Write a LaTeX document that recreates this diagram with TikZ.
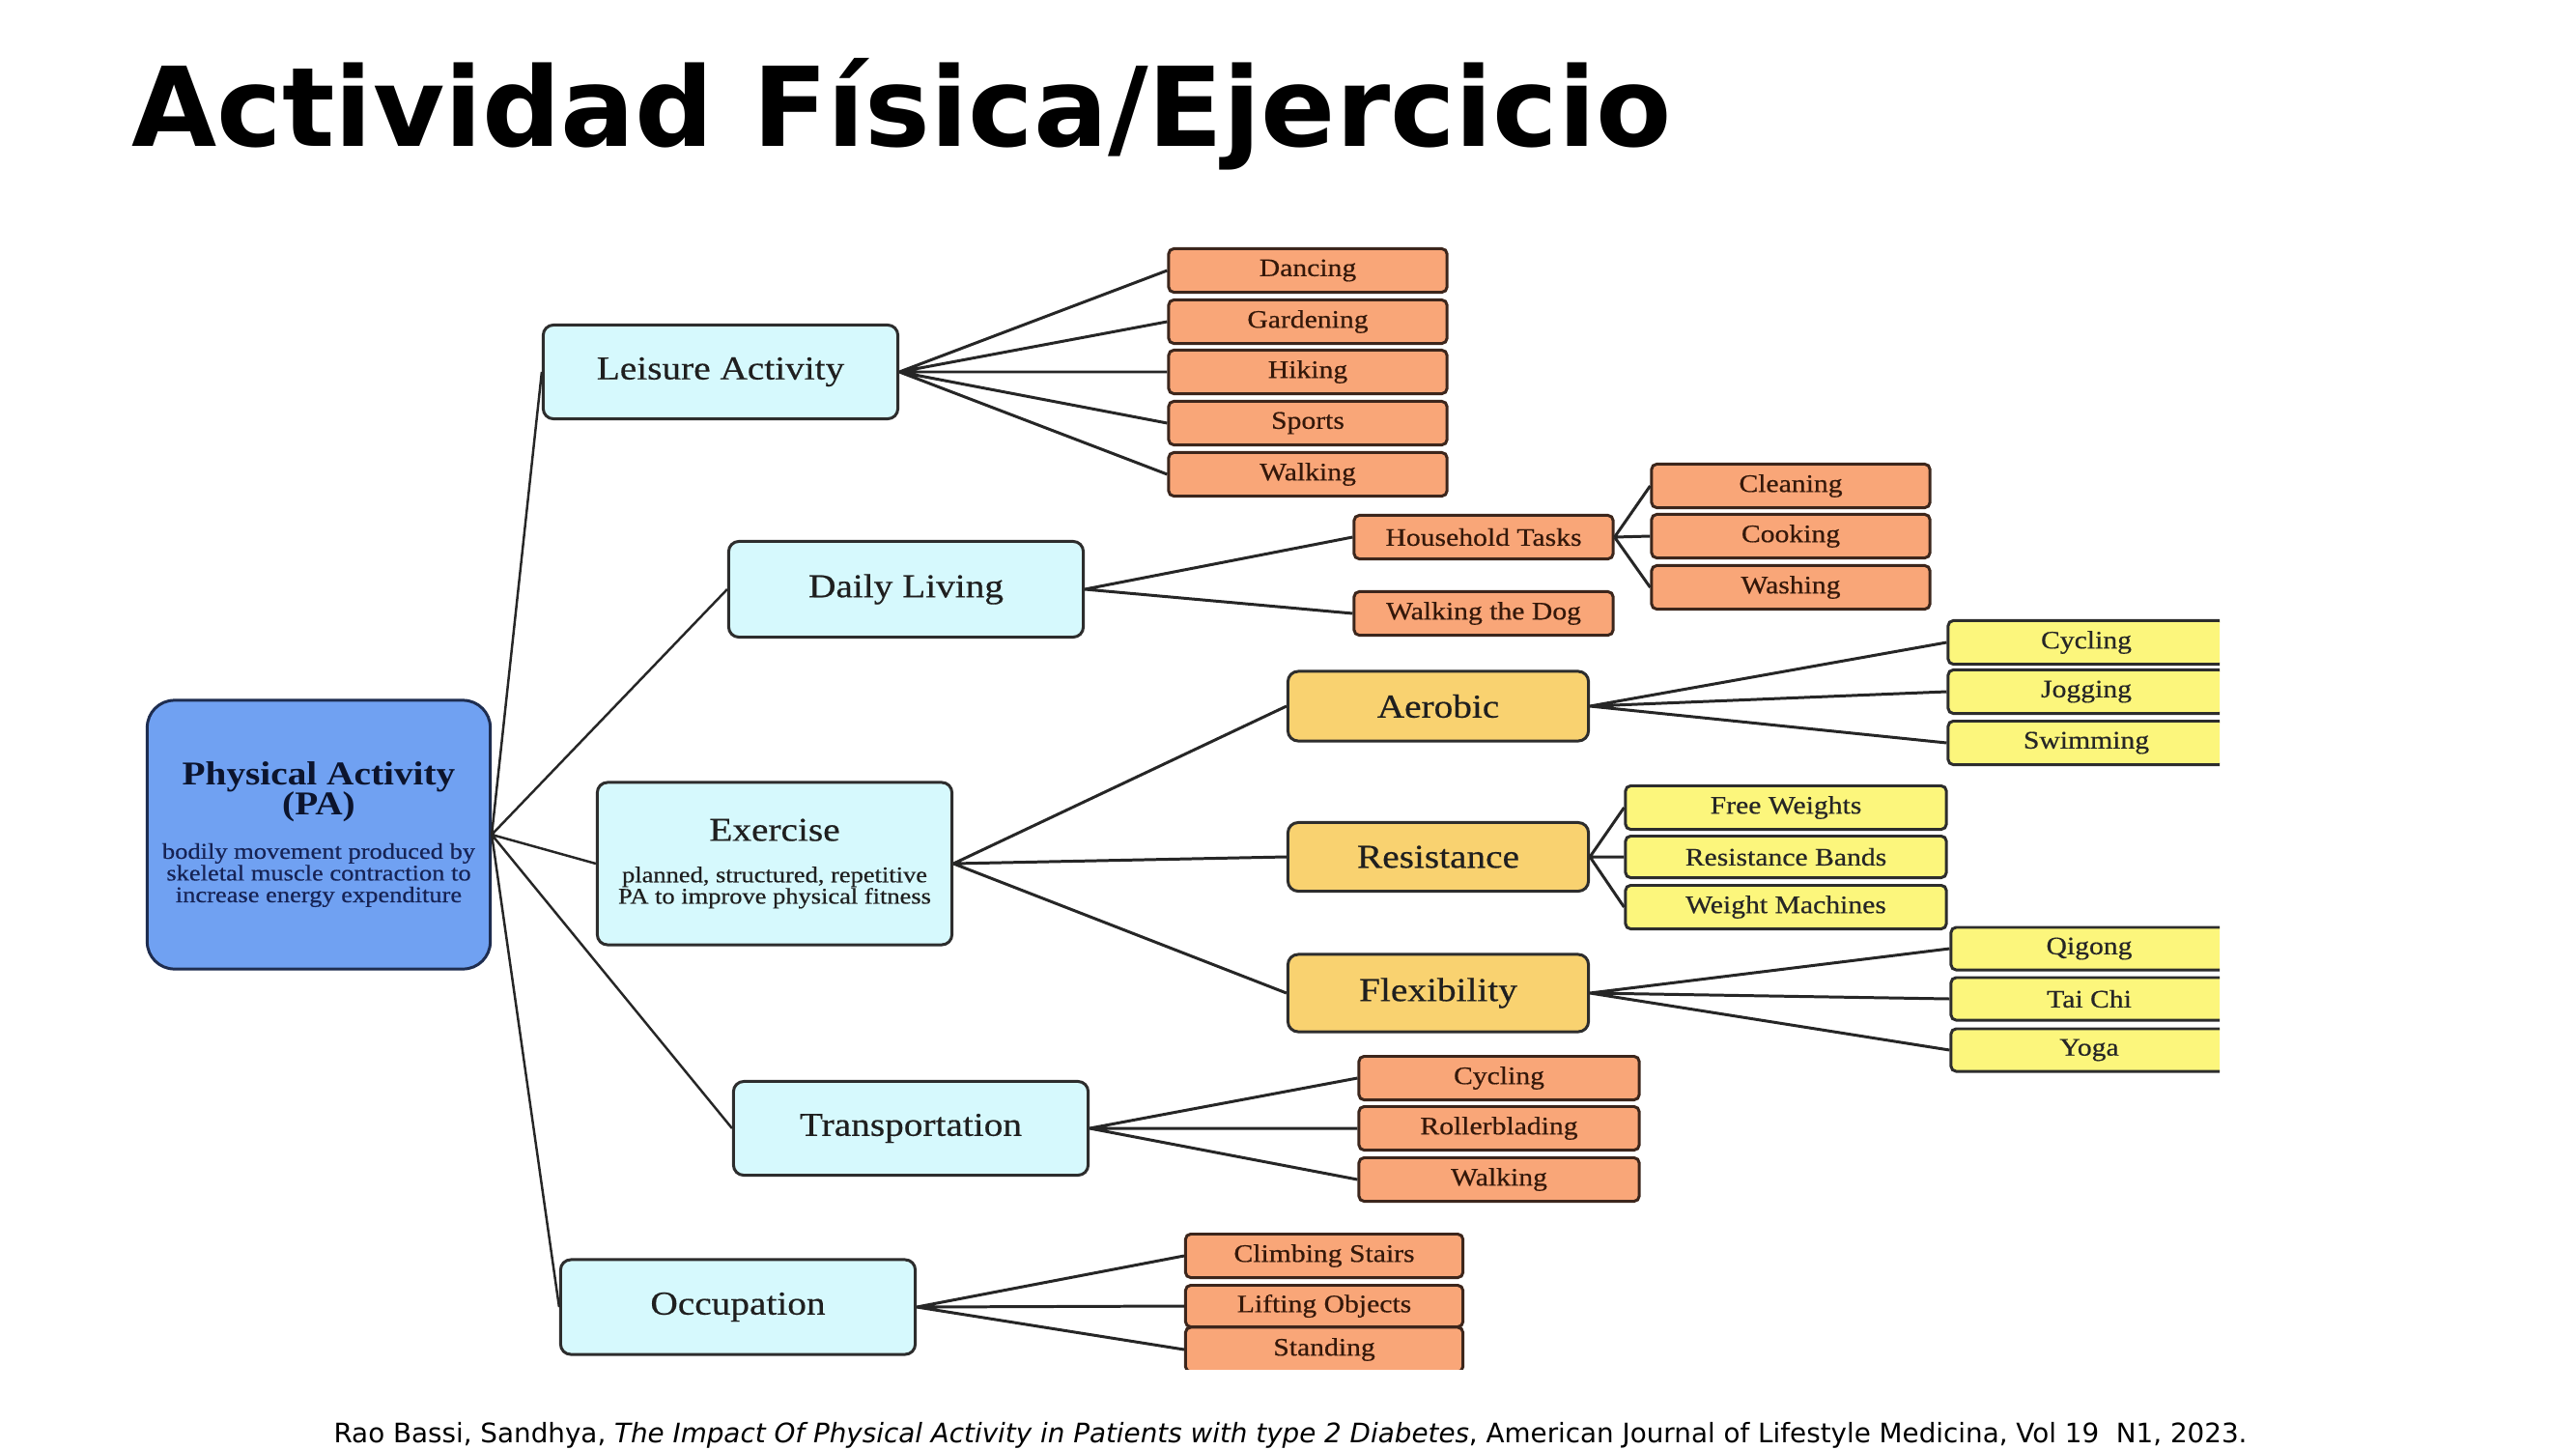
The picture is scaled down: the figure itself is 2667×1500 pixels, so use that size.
\documentclass[tikz,border=0pt]{standalone}
\usepackage{fontspec}
\setmainfont{Liberation Serif}[FakeStretch=1.14, UprightFeatures={FakeBold=0.5}]
\newfontfamily\slidefont{DejaVu Sans}[BoldFont={DejaVu Sans Bold}, ItalicFont={DejaVu Sans Oblique}]

\definecolor{pablue}{RGB}{112,161,242}
\definecolor{paline}{RGB}{30,45,80}
\definecolor{patext}{RGB}{12,20,45}
\definecolor{padesc}{RGB}{22,35,85}
\definecolor{catcyan}{RGB}{214,249,253}
\definecolor{kindgold}{RGB}{249,210,112}
\definecolor{leafyellow}{RGB}{252,246,124}
\definecolor{leaforange}{RGB}{249,166,120}
\definecolor{boxline}{RGB}{45,45,45}
\definecolor{leafline}{RGB}{60,38,28}
\definecolor{leaftext}{RGB}{52,24,10}

\newcommand{\bigfont}{\fontsize{9.8}{10.5}\selectfont}
\newcommand{\leaffont}{\fontsize{7.4}{8}\selectfont}
\newcommand{\notefont}{\fontsize{6.6}{6.3}\selectfont}

\begin{document}
\begin{tikzpicture}[x=0.01cm, y=-0.01cm,
	box/.style={draw=boxline, line width=0.85pt, align=center, inner sep=0pt},
	pa/.style={box, fill=pablue, draw=paline, rounded corners=8pt, minimum width=3.55cm, minimum height=2.78cm},
	cat/.style={box, fill=catcyan, rounded corners=3pt, minimum width=3.67cm, minimum height=0.97cm, text=black!88, font=\bigfont},
	kind/.style={box, fill=kindgold, rounded corners=3pt, minimum width=3.11cm, minimum height=0.71cm, text=black!88, font=\bigfont},
	leaf/.style={box, fill=leaforange, draw=leafline, rounded corners=1.5pt, minimum width=2.88cm, minimum height=0.45cm, text=leaftext, font=\leaffont},
	yleaf/.style={leaf, fill=leafyellow, draw=boxline, text=black!85},
	link/.style={draw=black!85, line width=0.85pt},
	trunk/.style={draw=black!85, line width=0.7pt}]
	
	\useasboundingbox (0,0) rectangle (2667,1500);
	
	%	slide title and source
	\node[anchor=base west, inner sep=0pt, font=\slidefont\bfseries\fontsize{32.4}{40}\selectfont] (title) at (136,152) {Actividad Física/Ejercicio};
	\node[anchor=base, inner sep=0pt, font=\slidefont\fontsize{7.9}{9}\selectfont] (source) at (1336,1493) {Rao Bassi, Sandhya, \textit{The Impact Of Physical Activity in Patients with type 2 Diabetes}, American Journal of Lifestyle Medicina, Vol 19\ \ N1, 2023.};
	
	\begin{scope}
	\clip (140,230) rectangle (2298,1417);
	
	%	root
	\node[pa] (pa) at (330,864) {\parbox{3.45cm}{\centering\lineskiplimit=-20pt\color{patext}\fontsize{9.8}{8.8}\selectfont\bfseries Physical Activity\\(PA)\par\vspace{6.4pt}\color{padesc}\mdseries\fontsize{6.6}{6.4}\selectfont bodily movement produced by\\skeletal muscle contraction to\\increase energy expenditure\par}};
	
	%	categories
	\node[cat] (leisure) at (746,385) {Leisure Activity};
	\node[cat, minimum height=0.99cm] (daily) at (938,610) {Daily Living};
	\node[cat, minimum height=1.68cm] (exercise) at (802,894) {\parbox{3.5cm}{\centering\lineskiplimit=-20pt Exercise\par\vspace{5.9pt}\notefont planned, structured, repetitive\\PA to improve physical fitness\par}};
	\node[cat] (transport) at (943,1168) {Transportation};
	\node[cat, minimum height=0.98cm] (occupation) at (764,1353) {Occupation};
	
	%	leisure
	\node[leaf] (dancing) at (1354,280) {Dancing};
	\node[leaf] (gardening) at (1354,333) {Gardening};
	\node[leaf] (hiking) at (1354,385) {Hiking};
	\node[leaf] (sports) at (1354,438) {Sports};
	\node[leaf] (walkingA) at (1354,491) {Walking};
	
	%	daily living
	\node[leaf, minimum width=2.68cm] (household) at (1536,556) {Household Tasks};
	\node[leaf, minimum width=2.68cm] (dog) at (1536,635) {Walking the Dog};
	\node[leaf] (cleaning) at (1854,503) {Cleaning};
	\node[leaf] (cooking) at (1854,555) {Cooking};
	\node[leaf] (washing) at (1854,608) {Washing};
	
	%	exercise
	\node[kind, minimum height=0.72cm] (aerobic) at (1489,731) {Aerobic};
	\node[kind] (resistance) at (1489,887) {Resistance};
	\node[kind, minimum height=0.80cm] (flexibility) at (1489,1028) {Flexibility};
	
	\node[yleaf, minimum width=2.86cm] (cyclingA) at (2160,665) {Cycling};
	\node[yleaf, minimum width=2.86cm] (jogging) at (2160,716) {Jogging};
	\node[yleaf, minimum width=2.86cm] (swimming) at (2160,769) {Swimming};
	
	\node[yleaf, minimum width=3.32cm] (freeweights) at (1849,836) {Free Weights};
	\node[yleaf, minimum width=3.32cm, minimum height=0.43cm] (bands) at (1849,887) {Resistance Bands};
	\node[yleaf, minimum width=3.32cm] (machines) at (1849,939) {Weight Machines};
	
	\node[yleaf, minimum width=2.86cm, minimum height=0.44cm] (qigong) at (2163,982) {Qigong};
	\node[yleaf, minimum width=2.86cm, minimum height=0.44cm] (taichi) at (2163,1034) {Tai Chi};
	\node[yleaf, minimum width=2.86cm, minimum height=0.44cm] (yoga) at (2163,1087) {Yoga};
	
	%	transportation
	\node[leaf, minimum width=2.90cm] (cyclingB) at (1552,1116) {Cycling};
	\node[leaf, minimum width=2.90cm] (rollerblading) at (1552,1168) {Rollerblading};
	\node[leaf, minimum width=2.90cm] (walkingB) at (1552,1221) {Walking};
	
	%	occupation
	\node[leaf, minimum width=2.87cm] (stairs) at (1371,1300) {Climbing Stairs};
	\node[leaf, minimum width=2.87cm, minimum height=0.43cm] (lifting) at (1371,1352) {Lifting Objects};
	\node[leaf, minimum width=2.87cm, minimum height=0.46cm] (standing) at (1371,1397) {Standing};
	
	%	connectors
	\draw[trunk] (pa.east) -- (leisure.west) (pa.east) -- (daily.west) (pa.east) -- (exercise.west)
		(pa.east) -- (transport.west) (pa.east) -- (occupation.west);
	\draw[link] (leisure.east) -- (dancing.west) (leisure.east) -- (gardening.west) (leisure.east) -- (hiking.west)
		(leisure.east) -- (sports.west) (leisure.east) -- (walkingA.west);
	\draw[link] (daily.east) -- (household.west) (daily.east) -- (dog.west);
	\draw[link] (household.east) -- (cleaning.west) (household.east) -- (cooking.west) (household.east) -- (washing.west);
	\draw[link] (exercise.east) -- (aerobic.west) (exercise.east) -- (resistance.west) (exercise.east) -- (flexibility.west);
	\draw[link] (aerobic.east) -- (cyclingA.west) (aerobic.east) -- (jogging.west) (aerobic.east) -- (swimming.west);
	\draw[link] (resistance.east) -- (freeweights.west) (resistance.east) -- (bands.west) (resistance.east) -- (machines.west);
	\draw[link] (flexibility.east) -- (qigong.west) (flexibility.east) -- (taichi.west) (flexibility.east) -- (yoga.west);
	\draw[link] (transport.east) -- (cyclingB.west) (transport.east) -- (rollerblading.west) (transport.east) -- (walkingB.west);
	\draw[link] (occupation.east) -- (stairs.west) (occupation.east) -- (lifting.west) (occupation.east) -- (standing.west);
	\end{scope}
\end{tikzpicture}
\end{document}
